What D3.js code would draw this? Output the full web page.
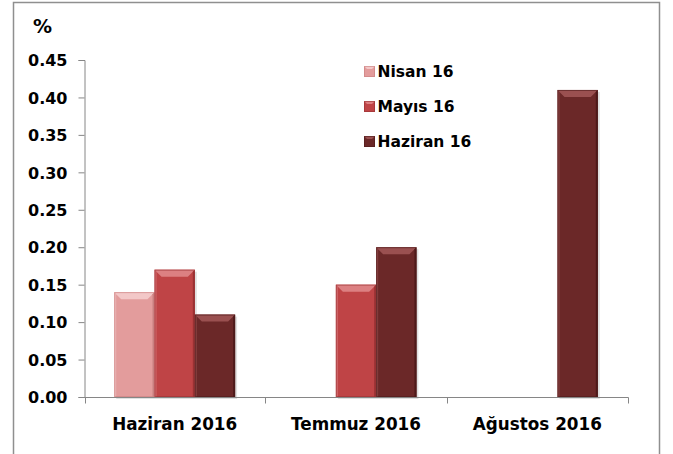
<!DOCTYPE html>
<html>
<head>
<meta charset="utf-8">
<script src="https://cdn.jsdelivr.net/npm/d3@7"></script>
<style>
  body { margin: 0; background: #fff; }
  text { font-family: "DejaVu Sans", Verdana, sans-serif; font-weight: bold; fill: #000; }
</style>
</head>
<body>
<svg width="673" height="454"></svg>
<script>
// chart data
var categories = ["Haziran 2016", "Temmuz 2016", "Ağustos 2016"];
var seriesNames = ["Nisan 16", "Mayıs 16", "Haziran 16"];
var nisan16 = [0.14, null, null];
var mayis16 = [0.17, 0.15, null];
var haziran16 = [0.11, 0.20, 0.41];
var yTicks = [0, 0.05, 0.10, 0.15, 0.20, 0.25, 0.30, 0.35, 0.40, 0.45];

var seriesValues = [nisan16, mayis16, haziran16];
var colors = ["#e39c9c", "#bf4446", "#6b2828"];
var lightColors = ["#f3c8c8", "#dc8082", "#9a5050"];
var darkColors = ["#c98080", "#9a3234", "#4e1a1a"];

var svg = d3.select("svg");

// outer frame
svg.append("rect")
    .attr("x", 13.5).attr("y", 2.5)
    .attr("width", 646).attr("height", 470)
    .attr("fill", "none")
    .attr("stroke", "#8f8f8f")
    .attr("stroke-width", 1.5);

var x0 = d3.scaleBand().domain(categories).range([84, 628]).paddingInner(0).paddingOuter(0);
var x1 = d3.scaleBand().domain(seriesNames).range([0, x0.bandwidth()]).paddingInner(0).paddingOuter(0.75);
var y = d3.scaleLinear().domain([0, 0.45]).range([397, 60]);

// y axis
var yAxis = svg.append("g")
    .attr("transform", "translate(84.5,0)")
    .call(d3.axisLeft(y).tickValues(yTicks).tickFormat(d3.format(".2f")).tickSize(6).tickPadding(11));
yAxis.selectAll("text").style("font-size", "16px").attr("dy", "0.36em");

// bars
var rows = [];
seriesValues.forEach(function(vals, s) {
    vals.forEach(function(v, c) {
        if (v != null) rows.push({ s: s, c: c, v: v });
    });
});

var bars = svg.append("g").selectAll("g")
    .data(rows)
    .enter().append("g");

function bevel(g, bx, by, bw, bh, s) {
    var b = Math.min(7, bh / 2);
    // shadow
    g.append("rect")
        .attr("x", bx + 2).attr("y", by + 2)
        .attr("width", bw).attr("height", bh)
        .attr("fill", "#000").attr("opacity", 0.12);
    g.append("rect")
        .attr("x", bx).attr("y", by)
        .attr("width", bw).attr("height", bh)
        .attr("fill", colors[s]);
    // top bevel
    g.append("polygon")
        .attr("points", [[bx, by], [bx + bw, by], [bx + bw - b, by + b], [bx + b, by + b]].join(" "))
        .attr("fill", lightColors[s]);
    // left bevel
    g.append("polygon")
        .attr("points", [[bx, by], [bx + 2, by + 2], [bx + 2, by + bh], [bx, by + bh]].join(" "))
        .attr("fill", lightColors[s]).attr("opacity", 0.6);
    // right bevel
    g.append("polygon")
        .attr("points", [[bx + bw, by], [bx + bw - 2, by + 2], [bx + bw - 2, by + bh], [bx + bw, by + bh]].join(" "))
        .attr("fill", darkColors[s]);
    g.append("rect")
        .attr("x", bx + 0.5).attr("y", by + 0.5)
        .attr("width", bw - 1).attr("height", bh - 1)
        .attr("fill", "none")
        .attr("stroke", darkColors[s]).attr("stroke-opacity", 0.6);
}

bars.each(function(d) {
    var bx = x0(categories[d.c]) + x1(seriesNames[d.s]);
    var by = y(d.v);
    bevel(d3.select(this), bx, by, x1.bandwidth(), y(0) - by, d.s);
});

// x axis
var xAxis = svg.append("g")
    .attr("transform", "translate(0,397.5)");
xAxis.append("line")
    .attr("x1", 84).attr("x2", 628.5)
    .attr("stroke", "#868686");
xAxis.selectAll(".tick")
    .data([84.5].concat(categories.map(function(c) { return x0(c) + x0.bandwidth(); })))
    .enter().append("line")
    .attr("x1", function(d) { return Math.round(d) + 0.5; })
    .attr("x2", function(d) { return Math.round(d) + 0.5; })
    .attr("y1", 0).attr("y2", 6)
    .attr("stroke", "#868686");
xAxis.selectAll("text")
    .data(categories)
    .enter().append("text")
    .attr("x", function(c) { return x0(c) + x0.bandwidth() / 2; })
    .attr("y", 26)
    .attr("dy", "0.36em")
    .attr("text-anchor", "middle")
    .style("font-size", "16.8px")
    .text(function(c) { return c; });

yAxis.select(".domain").attr("stroke", "#868686");
yAxis.selectAll(".tick line").attr("stroke", "#868686");

// unit label
svg.append("text")
    .attr("x", 33).attr("y", 26)
    .attr("dy", "0.36em")
    .style("font-size", "19px")
    .text("%");

// legend
var legend = svg.append("g").selectAll("g")
    .data(seriesNames)
    .enter().append("g")
    .attr("transform", function(d, i) { return "translate(364," + (71 + i * 35) + ")"; });

legend.each(function(d, i) {
    var g = d3.select(this);
    g.append("rect").attr("x", 0).attr("y", -5).attr("width", 11).attr("height", 11).attr("fill", colors[i]);
    g.append("polygon")
        .attr("points", [[0, -5], [11, -5], [8, -2], [3, -2]].join(" "))
        .attr("fill", lightColors[i]);
    g.append("rect").attr("x", 0.5).attr("y", -4.5).attr("width", 10).attr("height", 10)
        .attr("fill", "none").attr("stroke", darkColors[i]).attr("stroke-opacity", 0.6);
    g.append("text")
        .attr("x", 13.5).attr("y", 0)
        .attr("dy", "0.36em")
        .style("font-size", "15.5px")
        .text(d);
});
</script>
</body>
</html>
